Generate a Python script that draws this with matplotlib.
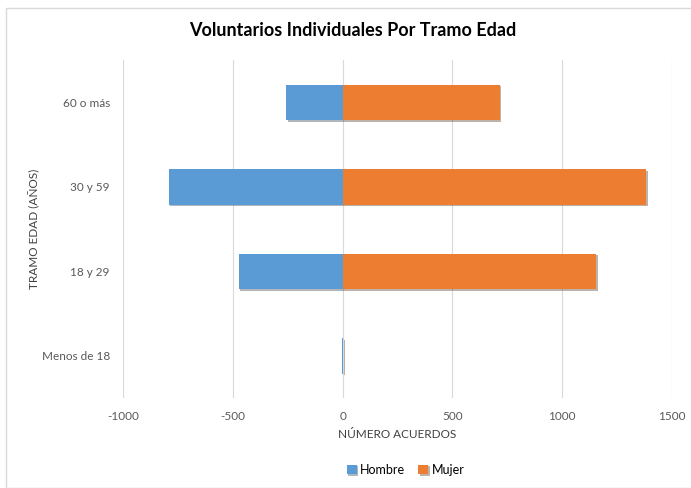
import matplotlib.pyplot as plt
import matplotlib.patheffects as pe
from matplotlib.patches import Rectangle

categories = ["Menos de 18", "18 y 29", "30 y 59", "60 o más"]
hombre = [-3, -473, -792, -257]
mujer = [4, 1155, 1383, 716]

plt.rcParams["font.family"] = ["Lato", "DejaVu Sans"]
plt.rcParams["axes.unicode_minus"] = False

fig = plt.figure(figsize=(6.91, 4.88), dpi=100)
ax = fig.add_axes([0.178, 0.184, 0.7945, 0.693])

shadow = [pe.SimplePatchShadow(offset=(1.2, -1.2), alpha=0.35), pe.Normal()]
y = range(len(categories))
b1 = ax.barh(y, hombre, height=0.42, color="#5b9bd5", label="Hombre", zorder=3)
b2 = ax.barh(y, mujer, height=0.42, color="#ed7d31", label="Mujer", zorder=3)
for b in list(b1) + list(b2):
    b.set_path_effects(shadow)

ax.set_xlim(-1000, 1500)
ax.set_ylim(-0.5, 3.5)
ax.set_xticks([-1000, -500, 0, 500, 1000, 1500])
ax.set_yticks(list(y))
ax.set_yticklabels(categories)
ax.tick_params(length=0, labelsize=8.5, labelcolor="#595959")
ax.tick_params(axis="x", pad=9)
ax.tick_params(axis="y", pad=9.5)
ax.grid(axis="x", color="#d9d9d9", linewidth=0.8, zorder=0)
for s in ax.spines.values():
    s.set_visible(False)

ax.set_xlabel("NÚMERO ACUERDOS", fontsize=8.5, color="#404040", labelpad=5)
ax.set_ylabel("TRAMO EDAD (AÑOS)", fontsize=8.5, color="#404040")
ax.yaxis.set_label_coords(-0.15, 0.5)
fig.suptitle("Voluntarios Individuales Por Tramo Edad", x=0.511, y=0.955,
             fontsize=13, fontweight="bold", color="black")

fig.legend(handles=[b1, b2], loc="center", bbox_to_anchor=(0.587, 0.037),
           ncol=2, frameon=False, fontsize=9, handlelength=0.8,
           handleheight=0.8, handletextpad=0.3, columnspacing=1.0)

fig.patches.append(Rectangle((6 / 691, 0), 1, 1 - 8 / 488, transform=fig.transFigure,
                             fill=False, edgecolor="#d9d9d9", linewidth=1))

fig.savefig("out.png", dpi=100)
